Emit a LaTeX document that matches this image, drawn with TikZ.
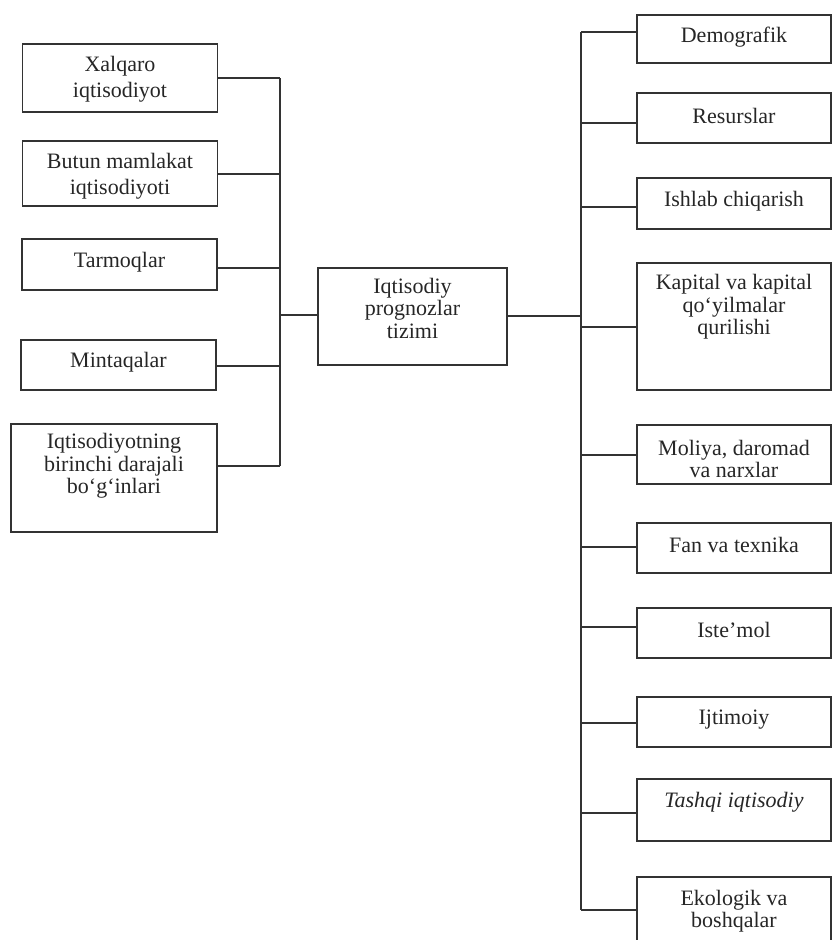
\documentclass[tikz,border=0pt]{standalone}
\usepackage{fontspec}
\setmainfont{Liberation Serif}
\begin{document}
\begin{tikzpicture}[x=1pt,y=-1pt,
  box/.style={draw=black!80, line width=1.3pt, rectangle, inner sep=0pt, minimum width=#1},
  box/.default=195pt,
  txt/.style={align=center, inner sep=0pt, text=black!85, font=\fontsize{22}{22.5}\selectfont},
  wide/.style={font=\fontsize{22}{26.5}\selectfont},
  conn/.style={draw=black!80, line width=1.3pt}]
\useasboundingbox (0,0) rectangle (832,940);
\clip (0,0) rectangle (832,940);
% left boxes
\node[box, minimum height=68pt] (xal) at (120,78) {};
\node[txt, wide] (xalt) at (120,79) {Xalqaro\\iqtisodiyot};
\node[box, minimum height=65pt] (but) at (120,173.5) {};
\node[txt, wide] (butt) at (120,176) {Butun mamlakat\\iqtisodiyoti};
\node[box, minimum height=51pt] (tar) at (119.5,264.5) {};
\node[txt] (tart) at (119.5,262) {Tarmoqlar};
\node[box, minimum height=50pt] (min) at (118.5,365) {};
\node[txt] (mint) at (118.5,362) {Mintaqalar};
\node[box=206pt, minimum height=108pt] (iqt) at (114,478) {};
\node[txt] (iqtt) at (114,466) {Iqtisodiyotning\\birinchi darajali\\bo‘g‘inlari};
% center
\node[box=189pt, minimum height=97pt] (cen) at (412.5,316.5) {};
\node[txt] (cent) at (412.5,308) {Iqtisodiy\\prognozlar\\tizimi};
% right boxes
\node[box=194pt, minimum height=48pt] (dem) at (734,39) {};
\node[txt] (demt) at (734,37) {Demografik};
\node[box=194pt, minimum height=50pt] (res) at (734,118) {};
\node[txt] (rest) at (734,116) {Resurslar};
\node[box=194pt, minimum height=51pt] (ish) at (734,203.5) {};
\node[txt] (isht) at (734,201) {Ishlab chiqarish};
\node[box=194pt, minimum height=127pt] (kap) at (734,326.5) {};
\node[txt] (kapt) at (734,307) {Kapital va kapital\\qo‘yilmalar\\qurilishi};
\node[box=194pt, minimum height=59pt] (mol) at (734,454.5) {};
\node[txt] (molt) at (734,459) {Moliya, daromad\\va narxlar};
\node[box=194pt, minimum height=50pt] (fan) at (734,548) {};
\node[txt] (fant) at (734,545) {Fan va texnika};
\node[box=194pt, minimum height=50pt] (ist) at (734,633) {};
\node[txt] (istt) at (734,630) {Iste’mol};
\node[box=194pt, minimum height=50pt] (ijt) at (734,722) {};
\node[txt] (ijtt) at (734,720) {Ijtimoiy};
\node[box=194pt, minimum height=62pt] (tas) at (734,810) {};
\node[txt, font=\fontsize{22}{22.5}\selectfont\itshape] (tast) at (734,802) {Tashqi iqtisodiy};
\node[box=194pt, minimum height=76pt] (eko) at (734,915) {};
\node[txt] (ekot) at (734,911) {Ekologik va\\boshqalar};
% buses
\coordinate (lb) at (280,0);
\coordinate (rb) at (581,0);
\coordinate (lbtop) at (280,78);
\coordinate (lbbot) at (280,466);
\coordinate (rbtop) at (581,32);
\coordinate (rbbot) at (581,910);
\draw[conn] (lbtop) -- (lbbot);
\draw[conn] (rbtop) -- (rbbot);
% left connectors
\draw[conn] (xal.east) -- (xal.east -| lb);
\draw[conn] ([yshift=-0.5pt]but.east) -- ([yshift=-0.5pt]but.east -| lb);
\draw[conn] ([yshift=-3.5pt]tar.east) -- ([yshift=-3.5pt]tar.east -| lb);
\draw[conn] ([yshift=-1pt]min.east) -- ([yshift=-1pt]min.east -| lb);
\draw[conn] ([yshift=12pt]iqt.east) -- ([yshift=12pt]iqt.east -| lb);
% center connectors
\draw[conn] ([yshift=1.5pt]cen.west) -- ([yshift=1.5pt]cen.west -| lb);
\draw[conn] ([yshift=0.5pt]cen.east) -- ([yshift=0.5pt]cen.east -| rb);
% right connectors
\draw[conn] ([yshift=7pt]dem.west) -- ([yshift=7pt]dem.west -| rb);
\draw[conn] ([yshift=-5pt]res.west) -- ([yshift=-5pt]res.west -| rb);
\draw[conn] ([yshift=-3.5pt]ish.west) -- ([yshift=-3.5pt]ish.west -| rb);
\draw[conn] ([yshift=-0.5pt]kap.west) -- ([yshift=-0.5pt]kap.west -| rb);
\draw[conn] ([yshift=-0.5pt]mol.west) -- ([yshift=-0.5pt]mol.west -| rb);
\draw[conn] ([yshift=1pt]fan.west) -- ([yshift=1pt]fan.west -| rb);
\draw[conn] ([yshift=6pt]ist.west) -- ([yshift=6pt]ist.west -| rb);
\draw[conn] ([yshift=-1pt]ijt.west) -- ([yshift=-1pt]ijt.west -| rb);
\draw[conn] ([yshift=-3pt]tas.west) -- ([yshift=-3pt]tas.west -| rb);
\draw[conn] ([yshift=5pt]eko.west) -- ([yshift=5pt]eko.west -| rb);
\end{tikzpicture}
\end{document}
